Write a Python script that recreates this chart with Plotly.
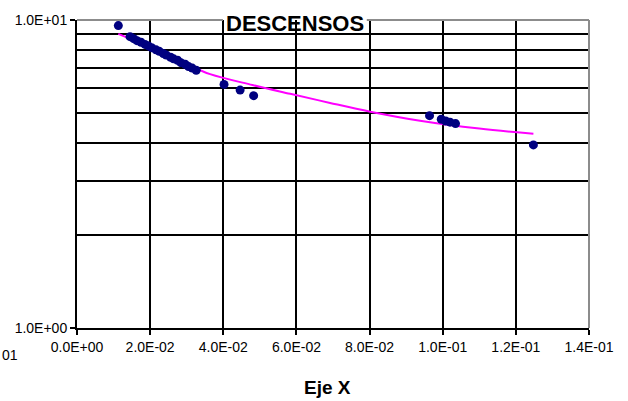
import plotly.graph_objects as go

# Measured points (DESCENSOS)
x_obs = [0.0113, 0.0145, 0.0155, 0.0164, 0.0175, 0.0186, 0.0195, 0.0204, 0.0216,
         0.0225, 0.0236, 0.0244, 0.0256, 0.0264, 0.0275, 0.0284, 0.0296, 0.0305,
         0.0315, 0.0326, 0.0402, 0.0446, 0.0483, 0.0964, 0.0996, 0.1008, 0.1020,
         0.1035, 0.1248]
y_obs = [9.59, 8.83, 8.70, 8.57, 8.47, 8.33, 8.24, 8.13, 8.00,
         7.91, 7.78, 7.70, 7.57, 7.48, 7.40, 7.27, 7.18, 7.06,
         6.98, 6.87, 6.18, 5.92, 5.68, 4.89, 4.76, 4.70, 4.66,
         4.61, 3.93]

# Trend line
x_fit = [0.0113, 0.0200, 0.0300, 0.0364, 0.0480, 0.0583, 0.0692, 0.0802, 0.0938, 0.1100, 0.1248]
y_fit = [9.02, 8.14, 7.18, 6.67, 6.15, 5.76, 5.38, 5.04, 4.71, 4.44, 4.27]

x_ticks = [0.0, 0.02, 0.04, 0.06, 0.08, 0.10, 0.12, 0.14]
x_ticktext = ["0.0E+00", "2.0E-02", "4.0E-02", "6.0E-02", "8.0E-02", "1.0E-01", "1.2E-01", "1.4E-01"]
y_ticks = [1, 10]
y_ticktext = ["1.0E+00", "1.0E+01"]
y_minor = [2, 3, 4, 5, 6, 7, 8, 9]

FONT = "Liberation Sans, Arial, sans-serif"

fig = go.Figure()
fig.add_trace(go.Scatter(x=x_fit, y=y_fit, mode="lines", line=dict(color="#FF00FF", width=2, shape="spline"),
                         showlegend=False, hoverinfo="skip"))
fig.add_trace(go.Scatter(x=x_obs, y=y_obs, mode="markers", marker=dict(color="#000080", size=9),
                         showlegend=False))

fig.update_layout(
    width=628, height=401, autosize=False,
    margin=dict(l=77, r=39, t=15, b=73),
    paper_bgcolor="white", plot_bgcolor="white",
    font=dict(family=FONT, size=14, color="black"),
    xaxis=dict(range=[0, 0.14], tickvals=x_ticks, ticktext=x_ticktext,
               showgrid=True, gridcolor="black", gridwidth=1.5,
               showline=True, linecolor="black", linewidth=2,
               ticks="outside", ticklen=5, tickcolor="black", tickwidth=1.5,
               zeroline=False, tickfont=dict(size=14)),
    yaxis=dict(type="log", range=[0, 1], tickvals=y_ticks, ticktext=y_ticktext,
               showgrid=False, showline=True, linecolor="black", linewidth=2,
               ticks="outside", ticklen=5, tickcolor="black", tickwidth=1.5,
               zeroline=False, tickfont=dict(size=14),
               minor=dict(tickvals=y_minor, showgrid=True, gridcolor="black", gridwidth=1.5, ticks="")),
    shapes=[
        dict(type="line", xref="paper", yref="paper", x0=0, x1=0.285, y0=1, y1=1,
             line=dict(color="#8c8c8c", width=2), layer="above"),
        dict(type="line", xref="paper", yref="paper", x0=0.566, x1=1, y0=1, y1=1,
             line=dict(color="#8c8c8c", width=2), layer="above"),
        dict(type="line", xref="paper", yref="paper", x0=1, x1=1, y0=0, y1=1,
             line=dict(color="#8c8c8c", width=2), layer="above"),
    ],
    annotations=[
        dict(text="<b>DESCENSOS</b>", xref="paper", yref="paper", x=0.425, y=0.990,
             xanchor="center", yanchor="middle", showarrow=False,
             font=dict(family=FONT, size=22, color="black")),
        dict(text="<b>Eje X</b>", xref="paper", yref="paper", x=0.490, y=-0.192,
             xanchor="center", yanchor="middle", showarrow=False,
             font=dict(family=FONT, size=19, color="black")),
        dict(text="01", xref="paper", yref="paper", x=-77/512, y=-0.088,
             xanchor="left", yanchor="middle", showarrow=False,
             font=dict(family=FONT, size=14, color="black")),
    ],
)

fig.write_html("out.html", config={"displayModeBar": False},
               post_script="document.body.style.margin='0';document.body.style.overflow='hidden';")
